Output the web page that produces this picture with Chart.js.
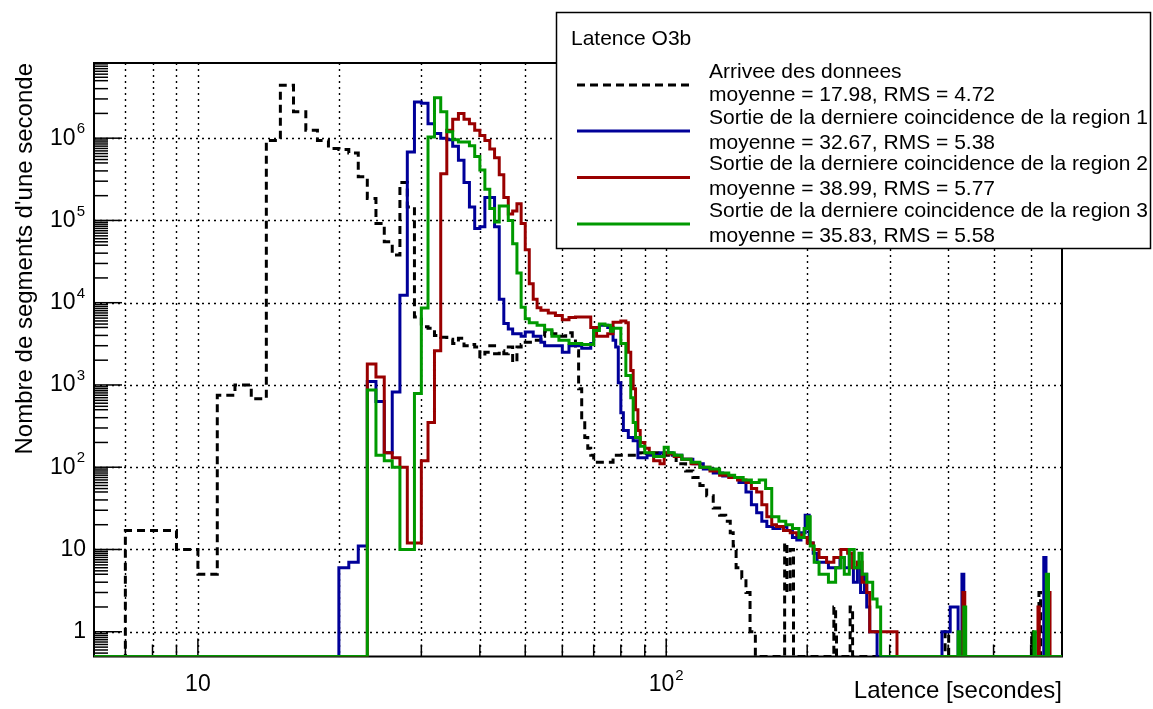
<!DOCTYPE html>
<html>
<head>
<meta charset="utf-8">
<script src="https://cdn.jsdelivr.net/npm/chart.js@4.4.0/dist/chart.umd.min.js"></script>
<style>
html, body { margin: 0; padding: 0; background: #fff; }
canvas { display: block; }
</style>
</head>
<body>
<canvas id="myChart" width="1153" height="709"></canvas>
<script>
// histograms: left edge of each run of bins (seconds) and the count per 1 s bin
var blackEdges  = [6, 7, 9, 10, 11, 12, 13, 14, 15, 16, 17, 18, 19, 20, 21, 22, 23, 24, 25, 26, 27, 28, 29, 30, 31, 32, 33, 34, 35, 36, 37, 38, 39, 40, 41, 42, 43, 44, 45, 46, 47, 48, 49, 50, 52, 54, 55, 57, 59, 61, 63, 64, 65, 66, 67, 68, 69, 70, 77, 88, 96, 105, 110, 114, 118, 122, 126, 130, 134, 137, 139, 141, 145, 148, 151, 155, 179, 181, 184, 187, 228, 230, 231, 247, 250, 394, 401, 603, 606, 625, 630];
var blackCounts = [0, 17, 10, 5, 750, 1000, 680, 9.4e5, 4.4e6, 2.1e6, 1.25e6, 9.4e5, 7.5e5, 7.3e5, 6.6e5, 3.4e5, 1.85e5, 9.2e4, 5.5e4, 3.8e4, 2.9e5, 1.46e5, 6700, 5100, 4900, 4000, 3800, 3600, 3200, 3700, 3000, 3100, 2900, 2200, 2500, 3000, 2400, 2600, 2400, 2900, 1900, 2900, 3100, 3300, 3500, 3900, 4500, 4200, 3900, 4300, 3900, 2600, 900, 380, 230, 170, 140, 115, 140, 150, 140, 110, 90, 75, 60, 45, 32, 26, 22, 16, 11, 6, 4.5, 3, 1, 0, 12, 3, 10, 0, 2, 1, 0, 2, 0, 1, 0, 1, 0, 3, 0];

var blueEdges  = [6, 20, 21, 22, 23, 24, 25, 26, 27, 28, 29, 30, 31, 32, 33, 34, 35, 36, 37, 38, 39, 40, 41, 43, 44, 45, 46, 47, 49, 50, 52, 54, 55, 60, 62, 66, 69, 70, 72, 75, 77, 78, 79, 80, 81, 83, 85, 87, 91, 97, 103, 108, 114, 120, 126, 132, 138, 143, 148, 152, 156, 160, 164, 169, 175, 181, 186, 190, 194, 198, 202, 206, 210, 222, 235, 240, 246, 251, 256, 260, 265, 268, 272, 282, 388, 404, 420, 428, 432, 640, 647];
var blueCounts = [0, 6, 7, 11, 1100, 630, 150, 820, 1.23e4, 6.8e5, 2.76e6, 2.65e6, 1.5e6, 1.14e6, 1.0e6, 9.6e5, 8e5, 5.4e5, 2.9e5, 1.46e5, 8e4, 8.4e4, 1.9e5, 8.4e4, 1.1e4, 5600, 4800, 4200, 3900, 4400, 3900, 3300, 3000, 2500, 3000, 2800, 3200, 5000, 5300, 5000, 3500, 2900, 1060, 460, 280, 230, 210, 130, 140, 150, 140, 125, 110, 95, 85, 78, 75, 65, 50, 35, 28, 22, 19, 18, 19, 17, 14, 13, 16, 26, 12, 9, 7, 6, 8, 6, 9, 4, 7, 3, 5, 2, 1, 0, 1, 2, 0, 5, 0, 8, 0];

var redEdges  = [6, 23, 24, 25, 26, 27, 28, 30, 31, 32, 33, 34, 35, 36, 37, 38, 39, 40, 41, 42, 43, 44, 45, 46, 47, 48, 49, 50, 51, 52, 53, 54, 56, 58, 60, 62, 64, 69, 71, 75, 77, 80, 82, 83, 84, 85, 86, 87, 88, 90, 92, 94, 97, 99, 101, 104, 108, 113, 118, 124, 130, 136, 142, 148, 152, 156, 160, 164, 168, 172, 178, 184, 190, 196, 200, 206, 212, 220, 228, 236, 244, 250, 256, 262, 268, 272, 311, 430, 434, 622, 626, 654, 660];
var redCounts = [0, 1800, 1250, 150, 130, 100, 12, 120, 350, 2600, 3.7e5, 1.25e6, 1.7e6, 2e6, 1.7e6, 1.5e6, 1.25e6, 1.08e6, 9.4e5, 7.4e5, 5.8e5, 3.6e5, 1.9e5, 1.2e5, 1.3e5, 1.6e5, 9.2e4, 4.4e4, 1.7e4, 1.1e4, 8700, 8100, 7500, 7000, 6200, 6600, 6700, 5000, 3900, 4200, 5800, 6000, 5700, 2500, 1500, 900, 500, 280, 200, 170, 150, 120, 110, 150, 145, 135, 125, 110, 100, 90, 80, 75, 70, 65, 55, 50, 35, 25, 20, 19, 17, 16, 15, 14, 12, 10, 8, 7, 8, 10, 9, 6, 7, 4, 3, 1, 0, 3, 0, 2, 0, 3, 0];

var greenEdges  = [6, 23, 24, 25, 26, 27, 29, 30, 31, 32, 33, 34, 35, 36, 38, 39, 40, 41, 42, 43, 44, 46, 47, 48, 49, 50, 51, 53, 55, 57, 59, 62, 66, 70, 72, 74, 76, 77, 80, 82, 84, 85, 86, 88, 90, 94, 99, 101, 104, 108, 113, 118, 124, 130, 136, 140, 146, 152, 158, 163, 168, 174, 180, 186, 192, 197, 200, 203, 207, 212, 222, 230, 236, 240, 246, 252, 258, 262, 268, 276, 282, 287, 420, 424, 432, 436, 610, 614, 648, 655];
var greenCounts = [0, 870, 140, 120, 100, 10, 790, 8600, 1.03e6, 3.1e6, 2.1e6, 1.2e6, 9.6e5, 9e5, 8.1e5, 6e5, 4.1e5, 2.4e5, 1.4e5, 9.6e4, 1.5e5, 1e5, 5.2e4, 2.3e4, 8800, 6400, 5700, 5300, 4700, 3900, 3500, 3200, 3100, 4600, 5500, 5300, 4500, 4900, 3200, 1300, 700, 350, 230, 180, 150, 135, 175, 150, 140, 125, 115, 100, 95, 85, 80, 75, 70, 65, 70, 55, 25, 22, 20, 18, 14, 18, 25, 11, 7, 5, 4, 6, 8, 5, 10, 6, 9, 5, 4, 2.5, 2, 0, 1, 0, 2, 0, 1, 0, 5, 0];

var xRange = [6, 700];
var yRange = [0.5, 8.2e6];
var xTickLabels = [10, 100];
var xGridValues = [7, 8, 9, 10, 20, 30, 40, 50, 60, 70, 80, 90, 100, 200, 300, 400, 500, 600];
var yTickLabels = [1, 10, 100, 1e3, 1e4, 1e5, 1e6];
var yMinorSteps = [2, 3, 4, 5, 5.5, 6, 6.5, 7, 7.5, 8, 8.5, 9, 9.5];

var legendTitle = 'Latence O3b';
var seriesNames = ['Arrivee des donnees',
                   'Sortie de la derniere coincidence de la region 1',
                   'Sortie de la derniere coincidence de la region 2',
                   'Sortie de la derniere coincidence de la region 3'];
var seriesStats = ['moyenne = 17.98, RMS = 4.72',
                   'moyenne = 32.67, RMS = 5.38',
                   'moyenne = 38.99, RMS = 5.77',
                   'moyenne = 35.83, RMS = 5.58'];
var seriesColors = ['#000000', '#000099', '#990000', '#009900'];

var FONT = '"Liberation Sans", Arial, Helvetica, sans-serif';

// empty bins sit on the bottom of the frame, as ROOT draws them on a log axis
function steps(edges, counts) {
    var pts = [];
    for (var i = 0; i < edges.length; i++) {
        pts.push({x: edges[i], y: counts[i] > 0 ? counts[i] : yRange[0]});
    }
    var last = counts[counts.length - 1];
    pts.push({x: xRange[1], y: last > 0 ? last : yRange[0]});
    return pts;
}

function seg(ctx, x1, y1, x2, y2) {
    ctx.beginPath();
    ctx.moveTo(x1, y1);
    ctx.lineTo(x2, y2);
    ctx.stroke();
}

// ROOT-like frame: dotted grid, inner ticks, labels with exponents, legend box
var rootFrame = {
    id: 'rootFrame',
    beforeDatasetsDraw: function(chart) {
        var ctx = chart.ctx, a = chart.chartArea;
        var xs = chart.scales.x, ys = chart.scales.y;
        ctx.save();
        ctx.strokeStyle = '#000';
        ctx.lineWidth = 1.4;
        ctx.setLineDash([2, 4]);
        xGridValues.forEach(function(v) {
            var px = Math.round(xs.getPixelForValue(v)) + 0.5;
            seg(ctx, px, a.top, px, a.bottom);
        });
        yTickLabels.forEach(function(v) {
            var py = Math.round(ys.getPixelForValue(v)) + 0.5;
            seg(ctx, a.left, py, a.right, py);
        });
        ctx.setLineDash([]);
        ctx.lineWidth = 1.5;
        xGridValues.forEach(function(v) {
            var px = xs.getPixelForValue(v);
            var len = xTickLabels.indexOf(v) >= 0 ? 18 : 12;
            seg(ctx, px, a.bottom, px, a.bottom - len);
        });
        for (var e = -1; e <= 6; e++) {
            var d = Math.pow(10, e);
            if (d >= yRange[0] && d <= yRange[1]) {
                var py = ys.getPixelForValue(d);
                seg(ctx, a.left, py, a.left + 28, py);
            }
            yMinorSteps.forEach(function(k) {
                var v = k * d;
                if (v > yRange[0] && v < yRange[1]) {
                    var p = ys.getPixelForValue(v);
                    seg(ctx, a.left, p, a.left + 14, p);
                }
            });
        }
        ctx.lineWidth = 2;
        ctx.strokeRect(a.left, a.top, a.right - a.left, a.bottom - a.top);
        ctx.restore();
    },
    afterDraw: function(chart) {
        var ctx = chart.ctx, a = chart.chartArea;
        var xs = chart.scales.x, ys = chart.scales.y;
        ctx.save();
        ctx.fillStyle = '#000';
        ctx.textBaseline = 'middle';
        // y labels
        yTickLabels.forEach(function(v) {
            var ex = Math.round(Math.log10(v));
            var py = ys.getPixelForValue(v);
            ctx.textAlign = 'right';
            if (ex <= 1) {
                ctx.font = '23px ' + FONT;
                ctx.fillText(String(v), 86, py);
            } else {
                ctx.font = '15px ' + FONT;
                var ew = ctx.measureText(String(ex)).width;
                ctx.fillText(String(ex), 85, py - 9);
                ctx.font = '23px ' + FONT;
                ctx.fillText('10', 85 - ew - 1, py);
            }
        });
        // x labels
        xTickLabels.forEach(function(v) {
            var ex = Math.round(Math.log10(v));
            var px = xs.getPixelForValue(v);
            var ly = 685;
            ctx.textAlign = 'left';
            ctx.font = '23px ' + FONT;
            if (ex <= 1) {
                ctx.textAlign = 'center';
                ctx.fillText(String(v), px, ly);
            } else {
                var bw = ctx.measureText('10').width;
                ctx.font = '15px ' + FONT;
                var ew = ctx.measureText(String(ex)).width;
                var x0 = px - (bw + 1 + ew) / 2;
                ctx.fillText(String(ex), x0 + bw + 1, ly - 9);
                ctx.font = '23px ' + FONT;
                ctx.fillText('10', x0, ly);
            }
        });
        // legend
        ctx.fillStyle = '#fff';
        ctx.fillRect(556, 12, 595, 237);
        ctx.strokeStyle = '#000';
        ctx.lineWidth = 1.5;
        ctx.strokeRect(556.5, 12.5, 594, 236);
        ctx.fillStyle = '#000';
        ctx.textAlign = 'left';
        ctx.font = '21px ' + FONT;
        ctx.fillText(legendTitle, 571, 39);
        var markY = [85, 131, 177.5, 224];
        var line1 = [72, 118.5, 164.5, 211.5];
        var line2 = [95, 143, 189.5, 236.5];
        for (var i = 0; i < seriesNames.length; i++) {
            ctx.strokeStyle = seriesColors[i];
            ctx.lineWidth = 3;
            ctx.setLineDash(i === 0 ? [8, 5] : []);
            seg(ctx, 577, markY[i], 690, markY[i]);
            ctx.setLineDash([]);
            ctx.fillText(seriesNames[i], 709, line1[i]);
            ctx.fillText(seriesStats[i], 709, line2[i]);
        }
        ctx.restore();
    }
};

var ctx = document.getElementById('myChart').getContext('2d');
var myChart = new Chart(ctx, {
    type: 'line',
    data: {
        datasets: [
            { label: seriesNames[0], data: steps(blackEdges, blackCounts), borderColor: seriesColors[0], borderDash: [8, 5], order: 3 },
            { label: seriesNames[1], data: steps(blueEdges, blueCounts), borderColor: seriesColors[1], order: 2 },
            { label: seriesNames[2], data: steps(redEdges, redCounts), borderColor: seriesColors[2], order: 1 },
            { label: seriesNames[3], data: steps(greenEdges, greenCounts), borderColor: seriesColors[3], order: 0 }
        ]
    },
    options: {
        responsive: false,
        animation: false,
        devicePixelRatio: 1,
        layout: { padding: { top: 63, right: 91, left: 0, bottom: 0 } },
        elements: {
            point: { radius: 0 },
            line: { borderWidth: 3, stepped: true, tension: 0, borderJoinStyle: 'miter', borderCapStyle: 'butt' }
        },
        plugins: { legend: { display: false }, tooltip: { enabled: false } },
        scales: {
            x: {
                type: 'logarithmic', min: xRange[0], max: xRange[1], bounds: 'data',
                grid: { display: false }, border: { display: false }, ticks: { display: false },
                title: { display: true, text: 'Latence [secondes]', align: 'end', color: '#000',
                         font: { family: FONT, size: 24 }, padding: { top: 0, bottom: 3 } },
                afterFit: function(s) { s.height = 52.5; }
            },
            y: {
                type: 'logarithmic', min: yRange[0], max: yRange[1], bounds: 'data',
                grid: { display: false }, border: { display: false }, ticks: { display: false },
                title: { display: true, text: "Nombre de segments d'une seconde", align: 'end', color: '#000',
                         font: { family: FONT, size: 24 }, padding: { top: 11, bottom: 0 } },
                afterFit: function(s) { s.width = 94; }
            }
        }
    },
    plugins: [rootFrame]
});
</script>
</body>
</html>
